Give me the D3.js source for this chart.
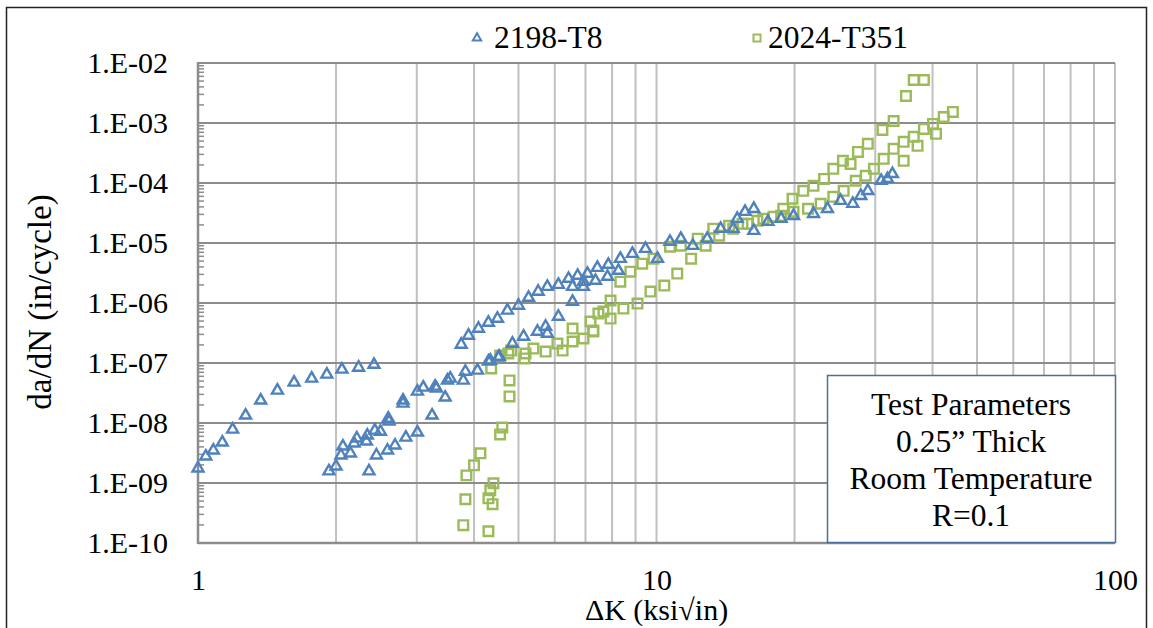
<!DOCTYPE html>
<html>
<head>
<meta charset="utf-8">
<script src="https://cdn.jsdelivr.net/npm/d3@7"></script>
<style>
  body { margin: 0; background: #fff; }
  text { font-family: "Liberation Serif", "Times New Roman", serif; fill: #000; }
</style>
</head>
<body>
<div id="chart"></div>
<script>
// 2198-T8 (triangles)
const k2198 = [1.00,1.04,1.08,1.13,1.19,1.27,1.37,1.49,1.62,1.77,1.91,2.06,2.24,2.42,
  1.93,2.00,2.05,2.07,2.15,2.19,2.22,2.33,2.34,2.43,2.50,2.60,2.61,2.80,2.80,3.01,3.10,3.29,3.31,3.50,3.55,3.79,3.83,4.07,4.30,4.54,4.34,4.52,4.85,5.13,5.50,5.73,5.78,6.11,
  2.36,2.45,2.59,2.69,2.84,3.01,3.24,3.46,
  3.75,3.89,4.09,4.30,4.50,4.73,5.00,5.26,5.52,5.78,6.11,6.43,6.73,7.07,7.43,6.56,6.93,7.36,6.56,6.93,7.82,7.85,8.26,8.34,8.86,9.46,10.05,10.7,11.3,12.0,12.9,13.8,14.7,15.0,15.6,16.3,16.3,17.5,18.7,19.9,22.0,23.6,25.2,26.8,27.9,28.9,30.9,31.9,32.7];
const da2198 = [1.76e-9,2.78e-9,3.50e-9,4.75e-9,7.8e-9,1.34e-8,2.38e-8,3.49e-8,4.74e-8,5.52e-8,6.44e-8,7.8e-8,8.4e-8,9.4e-8,
  1.57e-9,1.90e-9,2.89e-9,4.08e-9,3.12e-9,4.58e-9,5.55e-9,4.94e-9,6.22e-9,7.5e-9,7.2e-9,1.19e-8,1.06e-8,2.38e-8,2.12e-8,3.36e-8,3.91e-8,4.06e-8,3.76e-8,5.12e-8,5.52e-8,5.12e-8,7.2e-8,7.5e-8,1.06e-7,1.28e-7,1.10e-7,1.24e-7,2.11e-7,2.76e-7,3.34e-7,4.05e-7,3.10e-7,5.94e-7,
  1.57e-9,2.89e-9,3.50e-9,4.24e-9,5.75e-9,6.98e-9,1.34e-8,2.67e-8,
  2.03e-7,2.87e-7,3.75e-7,4.72e-7,5.50e-7,7.5e-7,9.06e-7,1.23e-6,1.55e-6,1.87e-6,2.02e-6,2.55e-6,2.86e-6,3.09e-6,3.88e-6,1.87e-6,1.87e-6,2.36e-6,1.05e-6,2.27e-6,2.75e-6,4.36e-6,3.46e-6,5.48e-6,6.64e-6,8.04e-6,5.48e-6,1.05e-5,1.18e-5,9.0e-6,1.18e-5,1.73e-5,1.73e-5,2.54e-5,3.32e-5,3.72e-5,1.60e-5,2.26e-5,2.54e-5,2.84e-5,3.07e-5,3.72e-5,5.06e-5,4.51e-5,6.12e-5,7.41e-5,1.09e-4,1.17e-4,1.42e-4];

// 2024-T351 (squares)
const k2024 = [3.79,4.30,3.83,4.30,4.34,4.39,4.41,3.85,4.00,4.13,4.56,4.61,4.78,4.78,4.36,4.56,4.75,4.82,5.15,5.18,5.39,5.73,6.08,6.24,6.56,6.56,6.93,7.18,7.28,7.47,
  7.66,7.94,8.34,8.77,9.31,9.85,10.7,11.3,12.3,13.3,14.4,15.4,16.6,18.0,18.9,19.8,20.9,22.0,23.2,24.3,25.5,26.5,27.5,28.9,31.1,32.9,35.0,36.4,38.3,
  7.28,7.94,8.47,9.09,9.70,10.4,11.1,11.9,12.8,13.7,14.7,15.8,17.1,18.7,19.9,21.4,22.8,24.3,25.6,27.2,28.6,29.8,31.3,32.9,34.6,34.6,36.4,37.1,38.3,40.1,40.7,42.3,44.3];
const da2024 = [1.98e-10,1.57e-10,5.36e-10,5.56e-10,7.55e-10,4.43e-10,9.9e-10,1.34e-9,1.97e-9,3.12e-9,6.45e-9,8.45e-9,2.77e-8,5.12e-8,8.1e-8,1.33e-7,1.44e-7,1.61e-7,1.19e-7,1.44e-7,1.74e-7,1.55e-7,2.11e-7,1.61e-7,2.28e-7,3.75e-7,2.56e-7,4.91e-7,3.34e-7,6.67e-7,
  7.2e-7,1.10e-6,2.27e-6,3.33e-6,4.53e-6,5.48e-6,8.67e-6,9.0e-6,1.18e-5,1.73e-5,1.94e-5,2.09e-5,2.35e-5,2.74e-5,3.72e-5,5.46e-5,7.41e-5,8.97e-5,1.17e-4,1.72e-4,2.34e-4,2.08e-4,3.30e-4,4.49e-4,7.67e-4,1.08e-3,2.82e-3,5.21e-3,5.21e-3,
  3.47e-7,5.50e-7,8.07e-7,9.78e-7,1.55e-6,1.95e-6,3.09e-6,5.48e-6,9.0e-6,1.32e-5,1.73e-5,2.09e-5,2.54e-5,2.84e-5,3.32e-5,3.72e-5,4.51e-5,5.89e-5,7.41e-5,1.09e-4,1.32e-4,1.72e-4,2.53e-4,3.71e-4,4.85e-4,2.34e-4,5.88e-4,4.16e-4,7.98e-4,9.66e-4,6.59e-4,1.26e-3,1.53e-3];

const xTicks = [1, 10, 100];
const yTicks = [1e-10, 1e-9, 1e-8, 1e-7, 1e-6, 1e-5, 1e-4, 1e-3, 1e-2];
const seriesNames = ["2198-T8", "2024-T351"];
const noteLines = ["Test Parameters", "0.25\u201D Thick", "Room Temperature", "R=0.1"];

const W = 1153, H = 628;
const blue = "#4F81BD", green = "#9BBB59";

const svg = d3.select("#chart").append("svg")
    .attr("width", W)
    .attr("height", H);

// chart border
svg.append("rect")
    .attr("x", 6.5).attr("y", 7.5)
    .attr("width", 1140).attr("height", 640)
    .attr("fill", "none")
    .attr("stroke", "#222")
    .attr("stroke-width", 1.5);

const x = d3.scaleLog().domain([1, 100]).range([198, 1115]);
const y = d3.scaleLog().domain([1e-10, 1e-2]).range([543, 63]);

// vertical grid (every minor value)
svg.append("g").selectAll("line")
    .data(x.ticks())
    .enter().append("line")
    .attr("x1", d => x(d)).attr("x2", d => x(d))
    .attr("y1", y(1e-2)).attr("y2", y(1e-10))
    .attr("stroke", "#c0c0c0")
    .attr("stroke-width", 2);

// horizontal grid (decades)
svg.append("g").selectAll("line")
    .data(yTicks)
    .enter().append("line")
    .attr("x1", x(1)).attr("x2", x(100))
    .attr("y1", d => y(d)).attr("y2", d => y(d))
    .attr("stroke", "#8c8c8c")
    .attr("stroke-width", 2);

// y minor ticks
let minor = [];
yTicks.slice(0, -1).forEach(function (d) {
    for (let m = 2; m <= 9; m++) minor.push(d * m);
});
svg.append("g").selectAll("line")
    .data(minor)
    .enter().append("line")
    .attr("x1", x(1)).attr("x2", x(1) + 6)
    .attr("y1", d => y(d)).attr("y2", d => y(d))
    .attr("stroke", "#8c8c8c")
    .attr("stroke-width", 1.5);

// axis lines
svg.append("line")
    .attr("x1", x(1)).attr("x2", x(1))
    .attr("y1", y(1e-2) - 1).attr("y2", y(1e-10) + 1)
    .attr("stroke", "#8c8c8c").attr("stroke-width", 2.5);
svg.append("line")
    .attr("x1", x(1)).attr("x2", x(100))
    .attr("y1", y(1e-10)).attr("y2", y(1e-10))
    .attr("stroke", "#8c8c8c").attr("stroke-width", 2.5);

// tick labels via d3 axes
const fmtY = d => "1.E-" + String(-Math.round(Math.log10(d))).padStart(2, "0");
const yAxis = svg.append("g")
    .attr("transform", "translate(" + x(1) + ",0)")
    .call(d3.axisLeft(y).tickValues(yTicks).tickFormat(fmtY).tickSize(0).tickPadding(30));
const xAxis = svg.append("g")
    .attr("transform", "translate(0," + y(1e-10) + ")")
    .call(d3.axisBottom(x).tickValues(xTicks).tickFormat(d3.format("d")).tickSize(0).tickPadding(26));
[yAxis, xAxis].forEach(function (a) {
    a.select(".domain").remove();
    a.selectAll("text")
        .style("font-family", "'Liberation Serif', 'Times New Roman', serif")
        .style("font-size", "30px")
        .attr("fill", "#000");
});
yAxis.selectAll("text").attr("dy", "0.33em");

// axis titles
svg.append("text")
    .attr("transform", "translate(51," + ((y(1e-2) + y(1e-10)) / 2 - 1) + ") rotate(-90)")
    .attr("text-anchor", "middle")
    .style("font-size", "33px")
    .text("da/dN (in/cycle)");
svg.append("text")
    .attr("x", (x(1) + x(100)) / 2)
    .attr("y", 620)
    .attr("text-anchor", "middle")
    .style("font-size", "30px")
    .text("\u0394K (ksi\u221Ain)");

// data
const triangle = d3.symbol().type(d3.symbolTriangle).size(52);
const square = d3.symbol().type(d3.symbolSquare).size(92);

svg.append("g").selectAll("path")
    .data(k2024.map((k, i) => [k, da2024[i]]))
    .enter().append("path")
    .attr("d", square)
    .attr("transform", d => "translate(" + x(d[0]) + "," + y(d[1]) + ")")
    .attr("fill", "none")
    .attr("stroke", green)
    .attr("stroke-width", 2.4);

svg.append("g").selectAll("path")
    .data(k2198.map((k, i) => [k, da2198[i]]))
    .enter().append("path")
    .attr("d", triangle)
    .attr("transform", d => "translate(" + x(d[0]) + "," + y(d[1]) + ")")
    .attr("fill", "none")
    .attr("stroke", blue)
    .attr("stroke-width", 2.4);

// legend
const legend = svg.append("g");
legend.append("path")
    .attr("d", d3.symbol().type(d3.symbolTriangle).size(30))
    .attr("transform", "translate(477,38)")
    .attr("fill", "none").attr("stroke", blue).attr("stroke-width", 2);
legend.append("text")
    .attr("x", 494).attr("y", 48)
    .style("font-size", "31.5px")
    .text(seriesNames[0]);
legend.append("path")
    .attr("d", d3.symbol().type(d3.symbolSquare).size(50))
    .attr("transform", "translate(757,38)")
    .attr("fill", "none").attr("stroke", green).attr("stroke-width", 2);
legend.append("text")
    .attr("x", 768).attr("y", 48)
    .style("font-size", "31.5px")
    .text(seriesNames[1]);

// note box
svg.append("rect")
    .attr("x", 827.5).attr("y", 375.5)
    .attr("width", 288).attr("height", 167)
    .attr("fill", "#fff")
    .attr("stroke", "#4a6f9b")
    .attr("stroke-width", 1.5);
svg.append("g").selectAll("text")
    .data(noteLines)
    .enter().append("text")
    .attr("x", 971)
    .attr("y", (d, i) => 415 + i * 37)
    .attr("text-anchor", "middle")
    .style("font-size", "31.5px")
    .text(d => d);
</script>
</body>
</html>
